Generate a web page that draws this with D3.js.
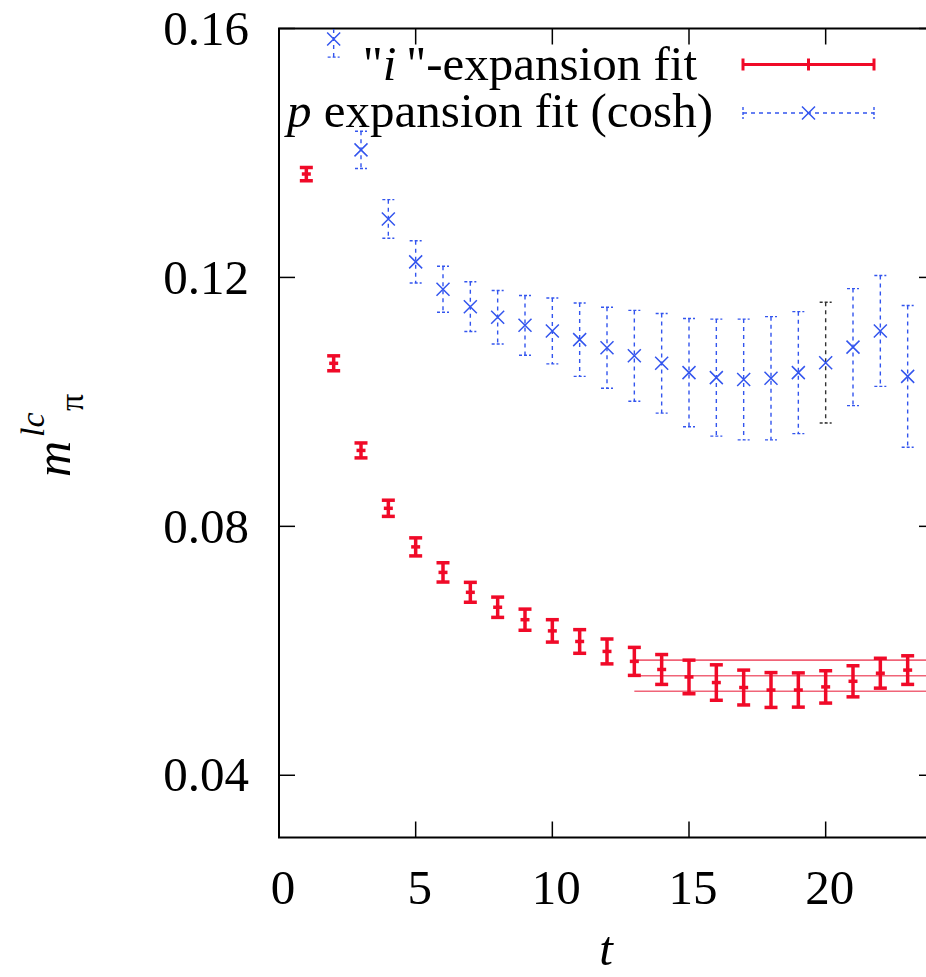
<!DOCTYPE html>
<html>
<head>
<meta charset="utf-8">
<script src="https://cdn.jsdelivr.net/npm/d3@7"></script>
<style>
  html, body { margin: 0; padding: 0; background: #fff; }
  svg { display: block; }
  text { font-family: "Liberation Serif", "DejaVu Serif", serif; fill: #000; }
</style>
</head>
<body>
<svg id="chart" width="926" height="977"></svg>
<script>
// ---- data ----
const redT   = [1,2,3,4,5,6,7,8,9,10,11,12,13,14,15,16,17,18,19,20,21,22,23];
const redVal = [0.1366,0.1062,0.0922,0.0829,0.0767,0.0726,0.0694,0.0670,0.0650,0.0632,0.0615,0.0599,
                0.0583,0.0570,0.0558,0.0549,0.0541,0.0537,0.0537,0.0542,0.0551,0.0564,0.0569];
const redErr = [0.00105,0.0012,0.0012,0.0013,0.00145,0.00155,0.0016,0.00163,0.0017,0.0018,0.0019,0.0020,
                0.00225,0.0024,0.0027,0.00285,0.0028,0.0028,0.00275,0.0026,0.0025,0.0024,0.0023];

const blueT   = [2,3,4,5,6,7,8,9,10,11,12,13,14,15,16,17,18,19,20,21,22,23];
const blueVal = [0.1583,0.1405,0.1294,0.1225,0.1181,0.1153,0.1136,0.1123,0.1114,0.1100,0.1087,
                 0.1074,0.1062,0.1047,0.1039,0.1036,0.1038,0.1047,0.1063,0.1088,0.1114,0.1041];
const blueErr = [0.0029,0.0030,0.0031,0.0034,0.0037,0.0040,0.0043,0.0048,0.0053,0.0059,0.0065,
                 0.0073,0.0080,0.0087,0.0094,0.0097,0.0099,0.0098,0.0097,0.0094,0.0089,0.0114];

const fitRange = [13, 24];
const fitVal = 0.0560;
const fitErr = 0.0025;

const xTicks = [0,5,10,15,20];
const yTicks = [0.04,0.08,0.12,0.16];
const legendLabels = ['"i"-expansion fit', 'p expansion fit (cosh)'];

// ---- layout ----
const svg = d3.select("#chart");
const L = 279, R = 935, T = 28.5, B = 837.5;
const x = d3.scaleLinear().domain([0, 24]).range([L, R]);
const y = d3.scaleLinear().domain([0.03, 0.16]).range([B, T]);

const RED = "#f00a28", BLUE = "#3355ee", FIT = "#f06478";

svg.append("clipPath").attr("id", "clip")
  .append("rect").attr("x", L).attr("y", T).attr("width", R - L).attr("height", B - T);

// axes (ticks inside)
const tickLen = 16;
const gx = svg.append("g");
xTicks.forEach(v => {
  gx.append("line").attr("x1", x(v)).attr("x2", x(v)).attr("y1", B).attr("y2", B - tickLen)
    .attr("stroke", "#000").attr("stroke-width", 1.5);
  gx.append("line").attr("x1", x(v)).attr("x2", x(v)).attr("y1", T).attr("y2", T + tickLen)
    .attr("stroke", "#000").attr("stroke-width", 1.5);
  gx.append("text").attr("x", x(v) + 4).attr("y", 904).attr("text-anchor", "middle")
    .attr("font-size", 49).text(d3.format("d")(v));
});
const gy = svg.append("g");
yTicks.forEach(v => {
  gy.append("line").attr("x1", L).attr("x2", L + tickLen).attr("y1", y(v)).attr("y2", y(v))
    .attr("stroke", "#000").attr("stroke-width", 1.5);
  gy.append("line").attr("x1", R).attr("x2", R - tickLen).attr("y1", y(v)).attr("y2", y(v))
    .attr("stroke", "#000").attr("stroke-width", 1.5);
  gy.append("text").attr("x", 249).attr("y", y(v)).attr("dy", "0.33em").attr("text-anchor", "end")
    .attr("font-size", 49).text(d3.format(".2f")(v));
});

// border
svg.append("rect").attr("x", L).attr("y", T).attr("width", R - L).attr("height", B - T)
  .attr("fill", "none").attr("stroke", "#000").attr("stroke-width", 2);

const plot = svg.append("g").attr("clip-path", "url(#clip)");

// fit band lines
[fitVal + fitErr, fitVal, fitVal - fitErr].forEach(v => {
  plot.append("line").attr("x1", x(fitRange[0])).attr("x2", x(fitRange[1]))
    .attr("y1", y(v)).attr("y2", y(v)).attr("stroke", FIT).attr("stroke-width", 1.6);
});

// blue series (dashed error bars with x markers)
const blue = blueT.map((t, i) => ({t, v: blueVal[i], e: blueErr[i]}));
const bg = plot.append("g").selectAll("g").data(blue).join("g");
bg.each(function(d) {
  const g = d3.select(this);
  const cx = x(d.t), y1 = y(d.v + d.e), y2 = y(d.v - d.e);
  const col = d.t === 20 ? "#333" : BLUE;
  g.append("line").attr("x1", cx).attr("x2", cx).attr("y1", y1).attr("y2", y2)
    .attr("stroke", col).attr("stroke-width", 1.4).attr("stroke-dasharray", "4,4");
  [y1, y2].forEach(yy => g.append("line").attr("x1", cx - 6).attr("x2", cx + 6).attr("y1", yy).attr("y2", yy)
    .attr("stroke", col).attr("stroke-width", 1.4).attr("stroke-dasharray", "3,2"));
  const cy = y(d.v), s = 6.5;
  g.append("path").attr("d", `M${cx - s},${cy - s}L${cx + s},${cy + s}M${cx - s},${cy + s}L${cx + s},${cy - s}`)
    .attr("stroke", BLUE).attr("stroke-width", 1.5).attr("fill", "none");
});

// red series
const red = redT.map((t, i) => ({t, v: redVal[i], e: redErr[i]}));
const rg = plot.append("g").selectAll("g").data(red).join("g");
rg.each(function(d) {
  const g = d3.select(this);
  const cx = x(d.t), y1 = y(d.v + d.e), y2 = y(d.v - d.e);
  g.append("line").attr("x1", cx).attr("x2", cx).attr("y1", y1).attr("y2", y2)
    .attr("stroke", RED).attr("stroke-width", 3.5);
  [y1, y2, y(d.v)].forEach((yy, k) => g.append("line")
    .attr("x1", cx - (k < 2 ? 6.5 : 4.5)).attr("x2", cx + (k < 2 ? 6.5 : 4.5)).attr("y1", yy).attr("y2", yy)
    .attr("stroke", RED).attr("stroke-width", 3.5));
});

// legend
const lg = svg.append("g");
const t1 = lg.append("text").attr("x", 697).attr("y", 80).attr("text-anchor", "end").attr("font-size", 49);
t1.append("tspan").text('"');
t1.append("tspan").attr("font-style", "italic").text("i");
t1.append("tspan").text('\u2009' + legendLabels[0].slice(2));
const t2 = lg.append("text").attr("x", 713).attr("y", 127).attr("text-anchor", "end").attr("font-size", 49);
t2.append("tspan").attr("font-style", "italic").text("p");
t2.append("tspan").text(legendLabels[1].slice(1));

const lx1 = 743, lx2 = 874, lxm = 808.5, ly1 = 64.5, ly2 = 113;
lg.append("line").attr("x1", lx1).attr("x2", lx2).attr("y1", ly1).attr("y2", ly1).attr("stroke", RED).attr("stroke-width", 3);
[lx1, lxm, lx2].forEach(xx => lg.append("line").attr("x1", xx).attr("x2", xx).attr("y1", ly1 - 6).attr("y2", ly1 + 6)
  .attr("stroke", RED).attr("stroke-width", 3));
lg.append("line").attr("x1", lx1).attr("x2", lx2).attr("y1", ly2).attr("y2", ly2).attr("stroke", BLUE)
  .attr("stroke-width", 1.4).attr("stroke-dasharray", "4,4");
[lx1, lx2].forEach(xx => lg.append("line").attr("x1", xx).attr("x2", xx).attr("y1", ly2 - 6).attr("y2", ly2 + 6)
  .attr("stroke", BLUE).attr("stroke-width", 1.4).attr("stroke-dasharray", "3,2"));
lg.append("path").attr("d", `M${lxm - 6.5},${ly2 - 6.5}L${lxm + 6.5},${ly2 + 6.5}M${lxm - 6.5},${ly2 + 6.5}L${lxm + 6.5},${ly2 - 6.5}`)
  .attr("stroke", BLUE).attr("stroke-width", 1.5);

// axis labels
svg.append("text").attr("x", 606).attr("y", 965).attr("text-anchor", "middle")
  .attr("font-size", 49).attr("font-style", "italic").text("t");

const yl = svg.append("text").attr("transform", "translate(70,477) rotate(-90)").attr("font-size", 50);
yl.append("tspan").attr("x", 0).attr("y", 0).attr("font-style", "italic").text("m");
yl.append("tspan").attr("x", 40).attr("y", -26).attr("font-size", 34).attr("font-style", "italic").text("lc");
yl.append("tspan").attr("x", 66).attr("y", 13).attr("font-size", 34).text("π");
</script>
</body>
</html>
